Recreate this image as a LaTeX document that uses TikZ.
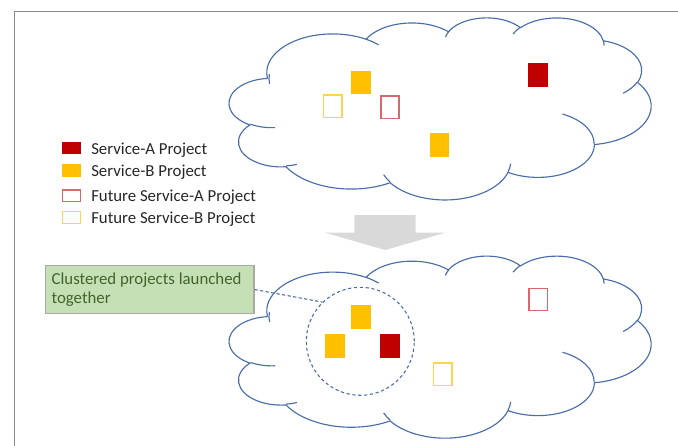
\documentclass[tikz,border=0pt]{standalone}
\usepackage{fontspec}
\setmainfont{Carlito}
\usetikzlibrary{shapes.geometric}

\definecolor{svcA}{HTML}{C00000}
\definecolor{svcB}{HTML}{FFC000}
\definecolor{futA}{HTML}{D9686C}
\definecolor{futB}{HTML}{FFD450}
\definecolor{cloudblue}{HTML}{4A6DAA}
\definecolor{framegray}{HTML}{8A8A8A}
\definecolor{arrowgray}{HTML}{D9D9D9}
\definecolor{notefill}{HTML}{C5E0B4}
\definecolor{noteedge}{HTML}{A9A9A9}
\definecolor{notetext}{HTML}{41642D}
\definecolor{legendtext}{HTML}{262626}

\tikzset{
  % visual ellipse angle -> parametric angle
  declare function={cloudang(\a,\w,\h)=atan2(\w*sin(\a),\h*cos(\a))+360*round((\a-atan2(\w*sin(\a),\h*cos(\a)))/360);},
  cloudline/.style={draw=cloudblue, line width=0.85pt, line join=round},
  proj/.style={rectangle, inner sep=0pt, outer sep=0pt, minimum width=14.8pt, minimum height=17.8pt},
  projA/.style={proj, fill=svcA},
  projB/.style={proj, fill=svcB},
  futureA/.style={proj, draw=futA, line width=1.1pt, minimum width=13.7pt, minimum height=16.7pt},
  futureB/.style={proj, draw=futB, line width=1.1pt, minimum width=13.7pt, minimum height=16.7pt},
  keybox/.style={rectangle, inner sep=0pt, outer sep=0pt, minimum width=14.3pt, minimum height=9.5pt},
  keyA/.style={keybox, fill=svcA},
  keyB/.style={keybox, fill=svcB},
  keyfutA/.style={keybox, draw=futA, line width=1pt, minimum width=13.3pt, minimum height=8.8pt},
  keyfutB/.style={keybox, draw=futB, line width=1pt, minimum width=13.3pt, minimum height=8.8pt},
  legendlabel/.style={anchor=base west, inner sep=0pt, text=legendtext, font=\fontsize{12.6pt}{15pt}\selectfont},
  note/.style={rectangle, draw=noteedge, line width=1pt, fill=notefill, text=notetext,
    font=\fontsize{12.6pt}{14.25pt}\selectfont, align=flush left, inner xsep=4.6pt, inner ysep=0pt},
  linkline/.style={draw=cloudblue, line width=0.8pt, dash pattern=on 2.4pt off 1.8pt},
}

% Cloud outline (43200-unit geometry, scaled to 432 units) placed with its
% frame's top-left corner at (#1,#2)
\newcommand\drawcloud[2]{%
\begin{scope}[shift={(#1,#2)}, x=0.73212pt, y=-0.31597pt]
  \path[cloudline, fill=white] (39.00,143.70)
    arc[x radius=67.53, y radius=91.90, start angle={cloudang(-190.4875,67.53,91.90)}, end angle={cloudang(-66.7070,67.53,91.90)}]
    arc[x radius=53.33, y radius=72.67, start angle={cloudang(-144.1024,53.33,72.67)}, end angle={cloudang(-54.1572,53.33,72.67)}]
    arc[x radius=43.65, y radius=59.45, start angle={cloudang(-145.8079,43.65,59.45)}, end angle={cloudang(-46.0849,43.65,59.45)}]
    arc[x radius=48.57, y radius=65.95, start angle={cloudang(-130.9861,48.57,65.95)}, end angle={cloudang(-13.7444,48.57,65.95)}]
    arc[x radius=53.33, y radius=72.73, start angle={cloudang(-78.7089,53.33,72.73)}, end angle={cloudang(30.3180,53.33,72.73)}]
    arc[x radius=67.75, y radius=92.20, start angle={cloudang(-46.2673,67.75,92.20)}, end angle={cloudang(84.0017,67.75,92.20)}]
    arc[x radius=57.85, y radius=78.67, start angle={cloudang(0.6250,57.85,78.67)}, end angle={cloudang(114.6583,57.85,78.67)}]
    arc[x radius=67.52, y radius=92.15, start angle={cloudang(22.4516,67.52,92.15)}, end angle={cloudang(137.6242,67.52,92.15)}]
    arc[x radius=77.20, y radius=105.43, start angle={cloudang(66.2426,77.20,105.43)}, end angle={cloudang(141.9536,77.20,105.43)}]
    arc[x radius=43.60, y radius=59.18, start angle={cloudang(-274.9421,43.60,59.18)}, end angle={cloudang(-128.2065,43.60,59.18)}]
    arc[x radius=43.45, y radius=59.45, start angle={cloudang(-246.8285,43.45,59.45)}, end angle={cloudang(-94.3096,43.45,59.45)}]
    -- cycle;
  % inner creases of the puffs
  \path[cloudline]
    (46.93,261.77) arc[x radius=43.45, y radius=59.45, start angle={cloudang(86.742,43.45,59.45)}, end angle={cloudang(113.1715,43.45,59.45)}]
    (69.28,348.99) arc[x radius=43.60, y radius=59.18, start angle={cloudang(73.6105,43.60,59.18)}, end angle={cloudang(85.058,43.60,59.18)}]
    (164.78,390.90) arc[x radius=67.52, y radius=92.15, start angle={cloudang(137.6242,67.52,92.15)}, end angle={cloudang(151.7053,67.52,92.15)}]
    (288.27,347.51) arc[x radius=67.52, y radius=92.15, start angle={cloudang(6.4533,67.52,92.15)}, end angle={cloudang(22.4517,67.52,92.15)}]
    (341.29,229.54) arc[x radius=57.85, y radius=78.67, start angle={cloudang(-70.2924,57.85,78.67)}, end angle={cloudang(0.625,57.85,78.67)}]
    (417.98,153.54) arc[x radius=53.33, y radius=72.73, start angle={cloudang(30.3180,53.33,72.73)}, end angle={cloudang(58.0695,53.33,72.73)}]
    (383.24,54.26) arc[x radius=48.57, y radius=65.95, start angle={cloudang(-13.7443,48.57,65.95)}, end angle={cloudang(1.1095,48.57,65.95)}]
    (290.78,39.52) arc[x radius=48.57, y radius=65.95, start angle={cloudang(-149.1815,48.57,65.95)}, end angle={cloudang(-130.9909,48.57,65.95)}]
    (221.41,47.20) arc[x radius=43.65, y radius=59.45, start angle={cloudang(-163.4943,43.65,59.45)}, end angle={cloudang(-145.8071,43.65,59.45)}]
    (140.00,51.92) arc[x radius=67.53, y radius=91.90, start angle={cloudang(-66.7070,67.53,91.90)}, end angle={cloudang(-54.3876,67.53,91.90)}]
    (41.27,157.89) arc[x radius=67.53, y radius=91.90, start angle={cloudang(-190.4875,67.53,91.90)}, end angle={cloudang(-170.8292,67.53,91.90)}];
\end{scope}}

\begin{document}
\begin{tikzpicture}[x=0.75pt, y=-0.75pt]
  \useasboundingbox (0,0) rectangle (678,446);

  % page frame edges
  \coordinate (frameTL) at (14.3,11.3);
  \coordinate (frameTR) at (678,11.3);
  \coordinate (frameBL) at (14.3,446);
  \draw[framegray, line width=1pt] (frameBL) -- (frameTL) -- (frameTR);

  % current state
  \drawcloud{229.3}{17.3}
  \node[projB]   (b1) at (360.8,82.5) {};
  \node[futureB] (fb1) at (332.8,106.2) {};
  \node[futureA] (fa1) at (390.0,107.3) {};
  \node[projB]   (b2) at (439.6,144.7) {};
  \node[projA]   (a1) at (538.2,75.0) {};

  % legend
  \node[keyA]    (kA)  at (71.5,148.0) {};
  \node[keyB]    (kB)  at (71.5,170.5) {};
  \node[keyfutA] (kfA) at (71.5,195.8) {};
  \node[keyfutB] (kfB) at (71.5,217.6) {};
  \node[legendlabel] (lA)  at (91,154.3) {Service-A Project};
  \node[legendlabel] (lB)  at (91,176.7) {Service-B Project};
  \node[legendlabel] (lfA) at (91,201.7) {Future Service-A Project};
  \node[legendlabel] (lfB) at (91,223.3) {Future Service-B Project};

  % transition arrow
  \fill[arrowgray] (354.3,215) -- (415.7,215) -- (415.7,232.5) -- (446,232.5)
    -- (385.2,250) -- (324.3,232.5) -- (354.3,232.5) -- cycle;

  % clustered state
  \drawcloud{229.3}{255.5}
  \node[projB]   (b3) at (360.7,317.2) {};
  \node[projB]   (b4) at (335.0,345.8) {};
  \node[projA]   (a2) at (389.8,345.8) {};
  \node[futureB] (fb2) at (442.7,374.2) {};
  \node[futureA] (fa2) at (538.3,299.5) {};
  \node[circle, draw=cloudblue, line width=0.8pt, dash pattern=on 2.4pt off 2pt,
        minimum size=81pt, inner sep=0pt] (cluster) at (360.3,341.3) {};

  % callout
  \node[note, anchor=north west, minimum width=156.4pt, minimum height=35.8pt,
        text width=147pt] (callout) at (44.7,265) {Clustered projects launched\\together};
  \draw[linkline] (callout.east) -- (cluster.134);
\end{tikzpicture}
\end{document}
